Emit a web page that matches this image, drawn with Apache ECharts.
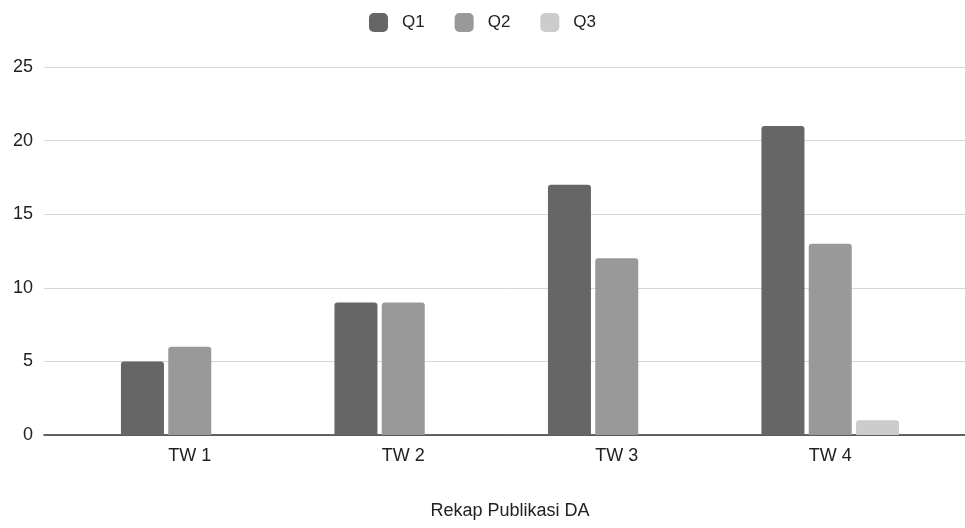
<!DOCTYPE html>
<html>
<head>
<meta charset="utf-8">
<script src="https://cdn.jsdelivr.net/npm/echarts@6/dist/echarts.min.js"></script>
<style>
html,body{margin:0;padding:0;background:#fff;}
#chart{width:965px;height:528px;}
</style>
</head>
<body>
<div id="chart"></div>
<script>
const categories = ['TW 1', 'TW 2', 'TW 3', 'TW 4'];
const seriesNames = ['Q1', 'Q2', 'Q3'];
const q1 = [5, 9, 17, 21];
const q2 = [6, 9, 12, 13];
const q3 = [0, 0, 0, 1];
const yTicks = [0, 5, 10, 15, 20, 25];
const axisTitle = 'Rekap Publikasi DA';

const colors = ['#666666', '#999999', '#cccccc'];
const font = '"Liberation Sans", Arial, sans-serif';

const chart = echarts.init(document.getElementById('chart'), null, {renderer: 'canvas'});
const values = [q1, q2, q3];

chart.setOption({
  animation: false,
  backgroundColor: '#ffffff',
  legend: {
    data: seriesNames,
    top: 8,
    left: 'center',
    itemWidth: 19,
    itemHeight: 19,
    itemGap: 30,
    icon: 'roundRect',
    textStyle: {fontFamily: font, fontSize: 17, color: '#222', padding: [0, 0, 0, 9]}
  },
  grid: [
    {left: 44, right: 0, top: 67, bottom: 93},
    {left: 83, right: 28, top: 67, bottom: 93}
  ],
  xAxis: [
    {
      gridIndex: 0, type: 'value', min: 0, max: 1,
      axisLine: {show: true, onZero: false, lineStyle: {color: '#333', width: 1.5}},
      axisTick: {show: false}, axisLabel: {show: false}, splitLine: {show: false}
    },
    {
      gridIndex: 1, type: 'category', data: categories,
      axisLine: {show: false}, axisTick: {show: false},
      axisLabel: {fontFamily: font, fontSize: 18, color: '#222', margin: 12},
      name: axisTitle, nameLocation: 'middle', nameGap: 67,
      nameTextStyle: {fontFamily: font, fontSize: 18, color: '#222'}
    }
  ],
  yAxis: [
    {
      gridIndex: 0, type: 'value', min: yTicks[0], max: yTicks[yTicks.length - 1], interval: 5,
      axisLine: {show: false}, axisTick: {show: false},
      axisLabel: {fontFamily: font, fontSize: 18, color: '#222', margin: 11},
      splitLine: {lineStyle: {color: '#d6d6d6', width: 1}}
    },
    {
      gridIndex: 1, type: 'value', min: yTicks[0], max: yTicks[yTicks.length - 1], interval: 5,
      show: false, splitLine: {show: false}
    }
  ],
  series: seriesNames.map((n, i) => ({
    name: n,
    type: 'bar',
    xAxisIndex: 1,
    yAxisIndex: 1,
    data: values[i],
    barWidth: 43,
    barGap: '10%',
    itemStyle: {color: colors[i], borderRadius: [3, 3, 0, 0]}
  }))
});
</script>
</body>
</html>
